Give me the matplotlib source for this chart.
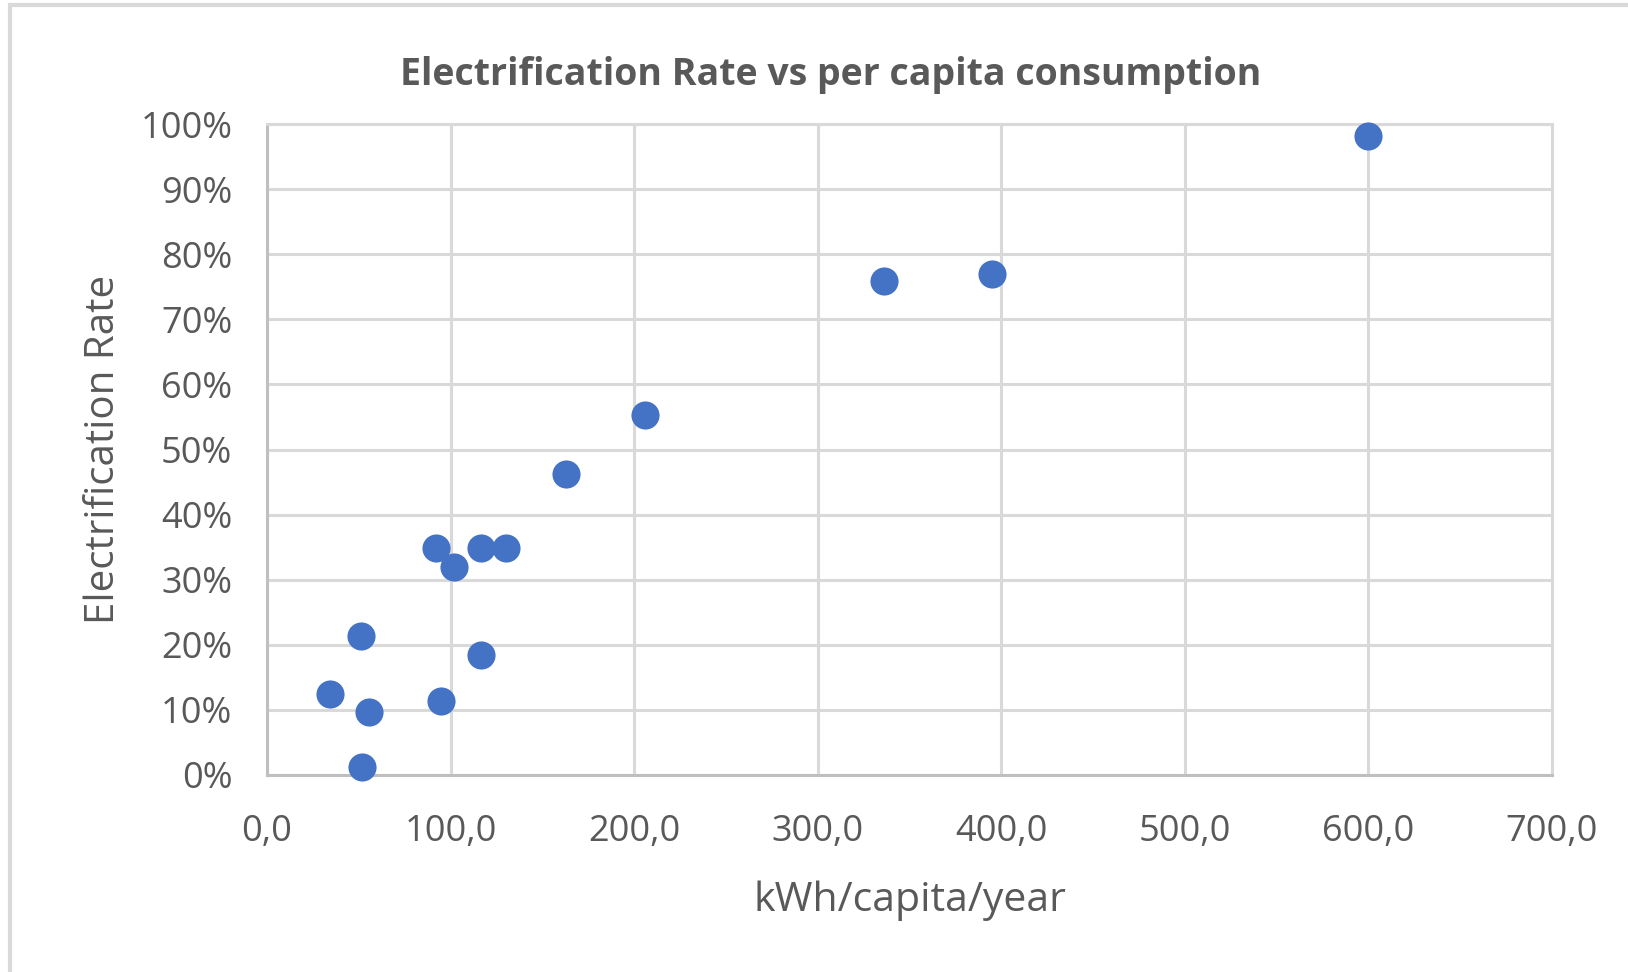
import matplotlib.pyplot as plt
from matplotlib.ticker import FuncFormatter
from matplotlib.patches import Rectangle

# data
consumption = [600, 336, 395, 206, 163, 92, 116.5, 130, 102, 51, 116.5, 34.5, 55.5, 95, 52]
electrification = [0.981, 0.759, 0.769, 0.553, 0.463, 0.349, 0.349, 0.349, 0.319, 0.214, 0.185, 0.124, 0.097, 0.113, 0.013]

x_ticks = [0, 100, 200, 300, 400, 500, 600, 700]
y_ticks = [0, 0.1, 0.2, 0.3, 0.4, 0.5, 0.6, 0.7, 0.8, 0.9, 1.0]

text_color = '#595959'
plt.rcParams['font.family'] = ['Open Sans', 'DejaVu Sans']

fig = plt.figure(figsize=(16.28, 9.72), dpi=100)
ax = fig.add_axes([267 / 1628, 1 - 775 / 972, (1552 - 267) / 1628, (775 - 124) / 972])

# chart area border (only top and left edges visible)
fig.patches.append(Rectangle((10 / 1628, -0.1), 1.2, 1 - 5 / 972 + 0.1, transform=fig.transFigure,
                             fill=False, edgecolor='#D9D9D9', linewidth=3))

ax.scatter(consumption, electrification, s=410, color='#4472C4', zorder=3, clip_on=False, linewidths=0)

ax.set_xlim(0, 700)
ax.set_ylim(0, 1.0)
ax.set_xticks(x_ticks)
ax.set_yticks(y_ticks)
ax.xaxis.set_major_formatter(FuncFormatter(lambda v, p: f'{v:.1f}'.replace('.', ',')))
ax.yaxis.set_major_formatter(FuncFormatter(lambda v, p: f'{v * 100:.0f}%'))
ax.tick_params(length=0, labelsize=26, labelcolor=text_color)
ax.tick_params(axis='y', pad=25)
ax.tick_params(axis='x', pad=28)

ax.grid(True, color='#D9D9D9', linewidth=2.2, zorder=0)
ax.set_axisbelow(True)
for side in ['top', 'right']:
    ax.spines[side].set_color('#D9D9D9')
    ax.spines[side].set_linewidth(2.2)
for side in ['left', 'bottom']:
    ax.spines[side].set_color('#BFBFBF')
    ax.spines[side].set_linewidth(2.2)

ax.set_xlabel('kWh/capita/year', fontsize=29.5, color=text_color, labelpad=22)
ax.set_ylabel('Electrification Rate', fontsize=29, color=text_color, labelpad=12)
fig.text(831 / 1628, 1 - 75 / 972, 'Electrification Rate vs per capita consumption',
         fontsize=27, fontweight='bold', color=text_color, ha='center', va='center')

fig.savefig('out.png', dpi=100)
